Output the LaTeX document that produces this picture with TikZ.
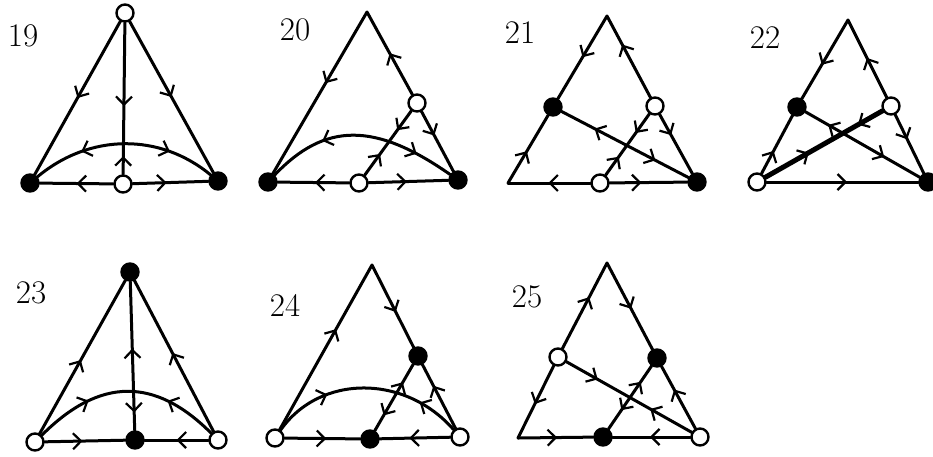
\documentclass[tikz,border=0pt]{standalone}
\usepackage{tikz}
\usetikzlibrary{arrows.meta, decorations.markings}
\tikzset{
  barb/.tip={Straight Barb[length=8pt, width=16pt, line width=2.2pt]},
  trj/.style={line width=3pt, line cap=round},
  thk/.style={line width=5pt},
  fixpt/.style={circle, draw, line width=2.4pt, minimum size=17pt, inner sep=0pt},
  src/.style={fixpt, fill=white},
  snk/.style={fixpt, fill=black},
  fw/.style={postaction={decorate, decoration={markings, mark=at position #1 with {\arrow{barb}}}}},
  bw/.style={postaction={decorate, decoration={markings, mark=at position #1 with {\arrowreversed{barb}}}}},
  num/.style={font=\fontsize{33}{33}\selectfont, inner sep=0pt},
}
\begin{document}
\begin{tikzpicture}[x=1pt, y=-1pt]
  \useasboundingbox (0,0) rectangle (933,456);
  % 19
  \node[num] (n19) at (23,36) {19};
  \node[src] (a19) at (125,13) {};
  \node[snk] (l19) at (30,183) {};
  \node[snk] (r19) at (218,181) {};
  \node[src] (m19) at (123,184) {};
  \draw[trj, fw=.5] (a19) -- (l19);
  \draw[trj, fw=.5] (a19) -- (r19);
  \draw[trj, fw=.55, bw=.88] (a19) -- (m19);
  \draw[trj, fw=.5] (m19) -- (l19);
  \draw[trj, fw=.45] (m19) -- (r19);
  \draw[trj, bw=.27, fw=.75] (l19) .. controls (90,133) and (160,133) .. (r19);
  % 20
  \node[num] (n20) at (295,30) {20};
  \coordinate (t20) at (367,12);
  \node[snk] (l20) at (268,182) {};
  \node[snk] (r20) at (458,180) {};
  \node[src] (s20) at (417,103) {};
  \node[src] (m20) at (359,183) {};
  \draw[trj, fw=.44] (t20) -- (l20);
  \draw[trj, fw=.5] (s20) -- (t20);
  \draw[trj, fw=.4] (s20) -- (r20);
  \draw[trj, fw=.48] (m20) -- (l20);
  \draw[trj, fw=.48] (m20) -- (r20);
  \draw[trj, fw=.33, bw=.7] (m20) -- (s20);
  \draw[trj, bw=.3, fw=.8] (l20) .. controls (325,122) and (375,122) .. (r20);
  % 21
  \node[num] (n21) at (520,33) {21};
  \coordinate (t21) at (607,16);
  \coordinate (b21) at (508,183);
  \node[snk] (r21) at (697,182) {};
  \node[snk] (a21) at (553,107) {};
  \node[src] (s21) at (655,106) {};
  \node[src] (m21) at (600,183) {};
  \draw[trj, fw=.5] (t21) -- (a21);
  \draw[trj, fw=.47] (b21) -- (a21);
  \draw[trj, fw=.65] (s21) -- (t21);
  \draw[trj, fw=.35] (s21) -- (r21);
  \draw[trj, fw=.51] (m21) -- (b21);
  \draw[trj, fw=.41] (m21) -- (r21);
  \draw[trj, bw=.26, fw=.74] (a21) -- (r21);
  \draw[trj, fw=.3, bw=.69] (m21) -- (s21);
  % 22
  \node[num] (n22) at (765,38) {22};
  \coordinate (t22) at (848,20);
  \node[src] (l22) at (757,182) {};
  \node[snk] (r22) at (928,182) {};
  \node[snk] (a22) at (797,107) {};
  \node[src] (s22) at (891,106) {};
  \draw[trj, fw=.57] (t22) -- (a22);
  \draw[trj, fw=.39] (l22) -- (a22);
  \draw[trj, fw=.51] (s22) -- (t22);
  \draw[trj, fw=.42] (s22) -- (r22);
  \draw[trj, fw=.53] (l22) -- (r22);
  \draw[trj, thk, fw=.37, bw=.79] (l22) -- (s22);
  \draw[trj, bw=.2, fw=.69] (a22) -- (r22);
  % 23
  \node[num] (n23) at (31,293) {23};
  \node[snk] (a23) at (130,272) {};
  \node[src] (l23) at (35,442) {};
  \node[src] (r23) at (218,440) {};
  \node[snk] (m23) at (135,440) {};
  \draw[trj, fw=.48] (l23) -- (a23);
  \draw[trj, fw=.52] (r23) -- (a23);
  \draw[trj, bw=.45, fw=.88] (a23) -- (m23);
  \draw[trj, fw=.47] (l23) -- (m23);
  \draw[trj, fw=.5] (r23) -- (m23);
  \draw[trj, fw=.3, bw=.72] (l23) .. controls (100,377) and (155,377) .. (r23);
  % 24
  \node[num] (n24) at (285,305) {24};
  \coordinate (t24) at (372,265);
  \node[src] (l24) at (275,438) {};
  \node[src] (r24) at (460,437) {};
  \node[snk] (s24) at (418,356) {};
  \node[snk] (m24) at (370,439) {};
  \draw[trj, fw=.61] (l24) -- (t24);
  \draw[trj, fw=.57] (t24) -- (s24);
  \draw[trj, fw=.67] (r24) -- (s24);
  \draw[trj, fw=.55] (l24) -- (m24);
  \draw[trj, fw=.58] (r24) -- (m24);
  \draw[trj, bw=.23, fw=.73] (m24) -- (s24);
  \draw[trj, fw=.3, bw=.78] (l24) .. controls (320,374) and (405,374) .. (r24);
  % 25
  \node[num] (n25) at (527,297) {25};
  \coordinate (t25) at (607,263);
  \coordinate (b25) at (518,438);
  \node[src] (r25) at (700,437) {};
  \node[src] (a25) at (558,357) {};
  \node[snk] (s25) at (657,358) {};
  \node[snk] (m25) at (603,437) {};
  \draw[trj, fw=.6] (a25) -- (t25);
  \draw[trj, fw=.53] (a25) -- (b25);
  \draw[trj, fw=.53] (t25) -- (s25);
  \draw[trj, fw=.63] (r25) -- (s25);
  \draw[trj, fw=.52] (b25) -- (m25);
  \draw[trj, fw=.52] (r25) -- (m25);
  \draw[trj, fw=.25, bw=.67] (a25) -- (r25);
  \draw[trj, bw=.3, fw=.75] (m25) -- (s25);
\end{tikzpicture}
\end{document}
